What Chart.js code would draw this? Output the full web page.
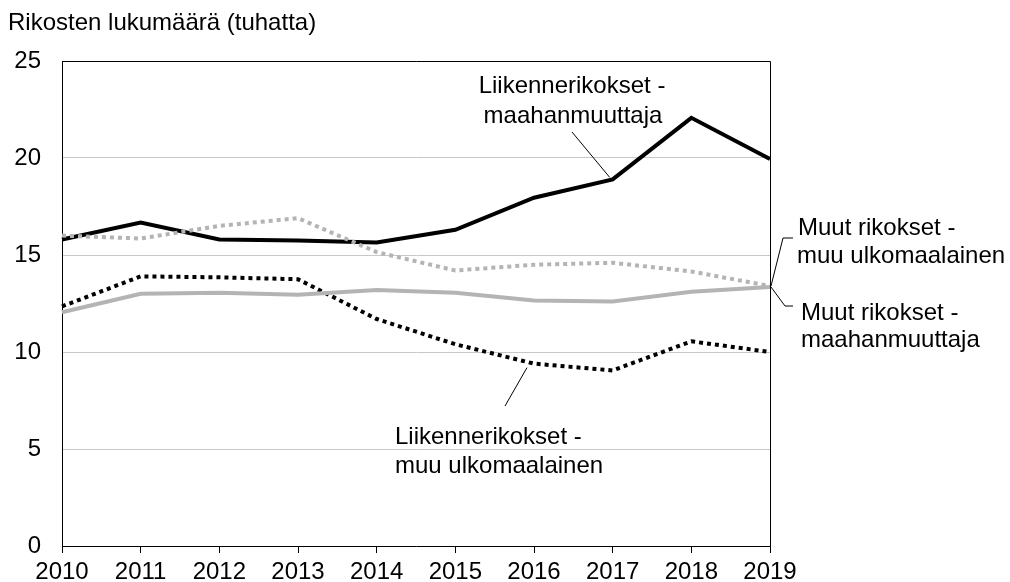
<!DOCTYPE html>
<html>
<head>
<meta charset="utf-8">
<script src="https://cdn.jsdelivr.net/npm/chart.js@4/dist/chart.umd.min.js"></script>
<style>
  html, body { margin: 0; padding: 0; background: #fff; }
  #wrap { width: 1010px; height: 582px; }
</style>
</head>
<body>
<div id="wrap"><canvas id="chart" width="1010" height="582"></canvas></div>
<script>
const years = ['2010', '2011', '2012', '2013', '2014', '2015', '2016', '2017', '2018', '2019'];
const liikenneMaahanmuuttaja = [15.8, 16.67, 15.8, 15.75, 15.65, 16.3, 17.95, 18.9, 22.07, 19.95];
const liikenneMuuUlkomaalainen = [12.35, 13.9, 13.85, 13.75, 11.7, 10.4, 9.4, 9.05, 10.55, 10.0];
const muutMaahanmuuttaja = [12.05, 13.0, 13.05, 12.95, 13.2, 13.05, 12.65, 12.6, 13.1, 13.35];
const muutMuuUlkomaalainen = [16.0, 15.85, 16.5, 16.9, 15.15, 14.2, 14.5, 14.6, 14.15, 13.4];
const yTicks = [0, 5, 10, 15, 20, 25];

const FONT = '"Liberation Sans", Arial, sans-serif';
const GREY = '#b4b4b4';

// title, plot frame and the callout labels with their leader lines
const annotations = {
    id: 'annotations',
    afterDraw(chart) {
        const ctx = chart.ctx;
        const a = chart.chartArea;
        const x = chart.scales.x;
        const y = chart.scales.y;
        ctx.save();

        ctx.strokeStyle = '#000';
        ctx.lineWidth = 1;
        ctx.beginPath();
        ctx.moveTo(a.left, a.top + 0.5);
        ctx.lineTo(a.right + 0.5, a.top + 0.5);
        ctx.lineTo(a.right + 0.5, a.bottom);
        ctx.stroke();

        ctx.fillStyle = '#000';
        ctx.font = '24px ' + FONT;
        ctx.textBaseline = 'alphabetic';
        ctx.textAlign = 'left';
        ctx.fillText('Rikosten lukumäärä (tuhatta)', 8, 30);

        ctx.textAlign = 'center';
        ctx.fillText('Liikennerikokset -', 572, 93);
        ctx.fillText('maahanmuuttaja', 573, 123);
        ctx.textAlign = 'left';
        ctx.fillText('Liikennerikokset -', 395, 444);
        ctx.fillText('muu ulkomaalainen', 395, 473);
        ctx.fillText('Muut rikokset -', 798, 235);
        ctx.fillText('muu ulkomaalainen', 797, 263);
        ctx.fillText('Muut rikokset -', 801, 320);
        ctx.fillText('maahanmuuttaja', 801, 347);

        ctx.lineWidth = 1;
        ctx.beginPath();
        // leader to 2017 point
        const p17 = [x.getPixelForValue(7), y.getPixelForValue(liikenneMaahanmuuttaja[7])];
        ctx.moveTo(572, 132);
        ctx.lineTo(p17[0] - 3, p17[1] - 2);
        // leader to 2016 point
        const p16 = [x.getPixelForValue(6), y.getPixelForValue(liikenneMuuUlkomaalainen[6])];
        ctx.moveTo(505, 406);
        ctx.lineTo(p16[0] - 7, p16[1] + 4);
        // leaders to the 2019 end points
        const e1 = [x.getPixelForValue(9), y.getPixelForValue(muutMuuUlkomaalainen[9])];
        ctx.moveTo(793, 238);
        ctx.lineTo(783, 238);
        ctx.lineTo(e1[0] + 1, e1[1]);
        const e2 = [x.getPixelForValue(9), y.getPixelForValue(muutMaahanmuuttaja[9])];
        ctx.moveTo(e2[0] + 1, e2[1]);
        ctx.lineTo(785, 306);
        ctx.lineTo(793, 306);
        ctx.stroke();

        ctx.restore();
    }
};

new Chart(document.getElementById('chart'), {
    type: 'line',
    data: {
        labels: years,
        datasets: [
            {
                label: 'Muut rikokset - maahanmuuttaja',
                data: muutMaahanmuuttaja,
                borderColor: GREY,
                borderWidth: 4,
                pointRadius: 0,
                tension: 0
            },
            {
                label: 'Muut rikokset - muu ulkomaalainen',
                data: muutMuuUlkomaalainen,
                borderColor: GREY,
                borderWidth: 4,
                borderDash: [4, 4],
                borderCapStyle: 'butt',
                pointRadius: 0,
                tension: 0
            },
            {
                label: 'Liikennerikokset - muu ulkomaalainen',
                data: liikenneMuuUlkomaalainen,
                borderColor: '#000',
                borderWidth: 4,
                borderDash: [4, 4],
                borderCapStyle: 'butt',
                pointRadius: 0,
                tension: 0
            },
            {
                label: 'Liikennerikokset - maahanmuuttaja',
                data: liikenneMaahanmuuttaja,
                borderColor: '#000',
                borderWidth: 4,
                pointRadius: 0,
                tension: 0
            }
        ]
    },
    options: {
        responsive: false,
        animation: false,
        layout: { padding: { left: 0, top: 61, right: 240, bottom: 0 } },
        plugins: {
            legend: { display: false },
            tooltip: { enabled: false }
        },
        scales: {
            x: {
                offset: false,
                grid: {
                    drawOnChartArea: false,
                    drawTicks: true,
                    tickLength: 7,
                    color: '#000'
                },
                border: { color: '#000', width: 1 },
                ticks: {
                    color: '#000',
                    font: { family: FONT, size: 24 },
                    padding: 5,
                    maxRotation: 0,
                    autoSkip: false
                },
                afterFit(scale) { scale.height = 36; }
            },
            y: {
                min: 0,
                max: 25,
                afterBuildTicks(scale) { scale.ticks = yTicks.map(v => ({ value: v })); },
                grid: {
                    color: '#c8c8c8',
                    drawTicks: false
                },
                border: { color: '#000', width: 1 },
                ticks: {
                    color: '#000',
                    font: { family: FONT, size: 24 },
                    padding: 21
                },
                afterFit(scale) { scale.width = 62; }
            }
        }
    },
    plugins: [annotations]
});
</script>
</body>
</html>
